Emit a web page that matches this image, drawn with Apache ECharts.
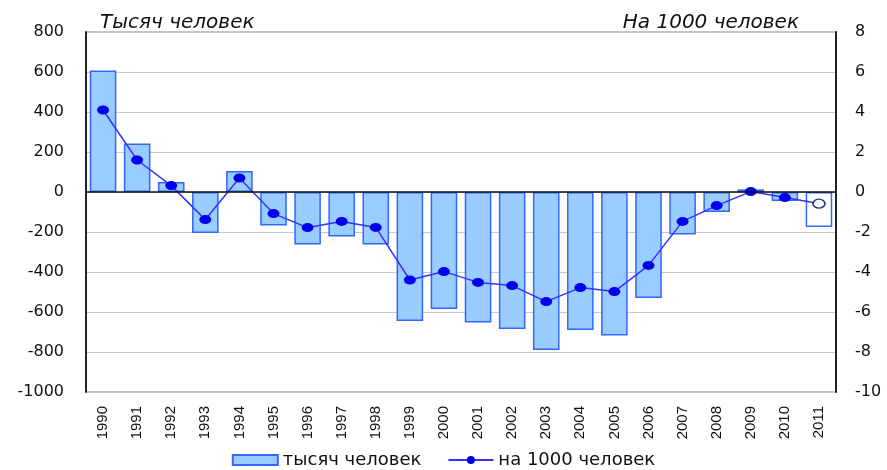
<!DOCTYPE html>
<html>
<head>
<meta charset="utf-8">
<script src="https://cdn.jsdelivr.net/npm/echarts@6/dist/echarts.min.js"></script>
<style>
  html, body { margin: 0; padding: 0; background: #fff; }
  #chart { width: 887px; height: 470px; }
</style>
</head>
<body>
<div id="chart"></div>
<script>
// годы
var years = ['1990', '1991', '1992', '1993', '1994', '1995', '1996', '1997', '1998', '1999', '2000',
  '2001', '2002', '2003', '2004', '2005', '2006', '2007', '2008', '2009', '2010', '2011'];
// тысяч человек (левая ось)
var thousands = [608, 242, 50, -205, 105, -168, -262, -223, -262, -645, -585,
  -652, -685, -790, -690, -717, -530, -212, -100, 13, -45, -175];
// на 1000 человек (правая ось)
var perThousand = [4.1, 1.6, 0.32, -1.38, 0.7, -1.08, -1.78, -1.47, -1.77, -4.4, -3.98,
  -4.52, -4.68, -5.48, -4.78, -4.98, -3.67, -1.47, -0.68, 0.02, -0.28, -0.58];
var leftTicks = [-1000, 800, 200];
var rightTicks = [-10, 8, 2];

var font = 'DejaVu Sans, Liberation Sans, Arial, sans-serif';
var lastIdx = years.length - 1;

var barData = thousands.map(function (v, i) {
  if (i === lastIdx) {
    return { value: v, itemStyle: { color: '#ffffff' } }; // оценка
  }
  return v;
});
var lineData = perThousand.map(function (v, i) {
  if (i === lastIdx) {
    return { value: v, itemStyle: { color: '#ffffff', borderColor: '#1f3f7a', borderWidth: 1.5 } };
  }
  return v;
});

var myChart = echarts.init(document.getElementById('chart'));
var option = {
  animation: false,
  backgroundColor: '#ffffff',
  textStyle: { fontFamily: font },
  title: [
    {
      text: 'Тысяч человек', left: 95, top: 8,
      textStyle: { fontSize: 20, fontStyle: 'italic', fontWeight: 'normal', color: '#111', fontFamily: font }
    },
    {
      text: 'На 1000 человек', right: 83, top: 8,
      textStyle: { fontSize: 20, fontStyle: 'italic', fontWeight: 'normal', color: '#111', fontFamily: font }
    }
  ],
  legend: {
    bottom: -4,
    left: 'center',
    itemGap: 26,
    itemWidth: 45,
    itemHeight: 10,
    textStyle: { fontSize: 18, color: '#111', fontFamily: font },
    data: [
      { name: 'тысяч человек', icon: 'rect' },
      { name: 'на 1000 человек' }
    ]
  },
  grid: {
    left: 86, right: 51, top: 32, bottom: 78,
    show: true, borderColor: '#888', borderWidth: 1, containLabel: false
  },
  xAxis: {
    type: 'category',
    data: years,
    axisLine: { show: false, onZero: false },
    axisTick: { show: false },
    axisLabel: { rotate: 90, fontSize: 15, color: '#111', margin: 14, interval: 0, fontFamily: 'Liberation Sans, Arial, sans-serif' }
  },
  yAxis: [
    {
      type: 'value',
      min: leftTicks[0], max: leftTicks[1], interval: leftTicks[2],
      axisLine: { show: true, lineStyle: { color: '#222', width: 2 } },
      axisTick: { show: false },
      axisLabel: { fontSize: 16, color: '#111', margin: 22, fontFamily: font, formatter: function (v) { return String(v); } },
      splitLine: { show: true, lineStyle: { color: '#c8c8c8', width: 1 } }
    },
    {
      type: 'value',
      min: rightTicks[0], max: rightTicks[1], interval: rightTicks[2],
      axisLine: { show: true, lineStyle: { color: '#222', width: 2 } },
      axisTick: { show: false },
      axisLabel: { fontSize: 16, color: '#111', margin: 19, fontFamily: font, formatter: function (v) { return String(v); } },
      splitLine: { show: false }
    }
  ],
  series: [
    {
      name: 'тысяч человек',
      type: 'bar',
      yAxisIndex: 0,
      barCategoryGap: '22%',
      data: barData,
      itemStyle: { color: '#99ccff', borderColor: '#3366ff', borderWidth: 1.5 },
      markLine: {
        silent: true,
        symbol: 'none',
        label: { show: false },
        lineStyle: { color: '#111', width: 1.5, type: 'solid' },
        data: [{ yAxis: 0 }]
      }
    },
    {
      name: 'на 1000 человек',
      type: 'line',
      yAxisIndex: 1,
      data: lineData,
      symbol: 'circle',
      symbolSize: [12, 9],
      lineStyle: { color: '#3333ff', width: 1.5 },
      itemStyle: { color: '#0000ee' }
    }
  ]
};
myChart.setOption(option);
</script>
</body>
</html>
